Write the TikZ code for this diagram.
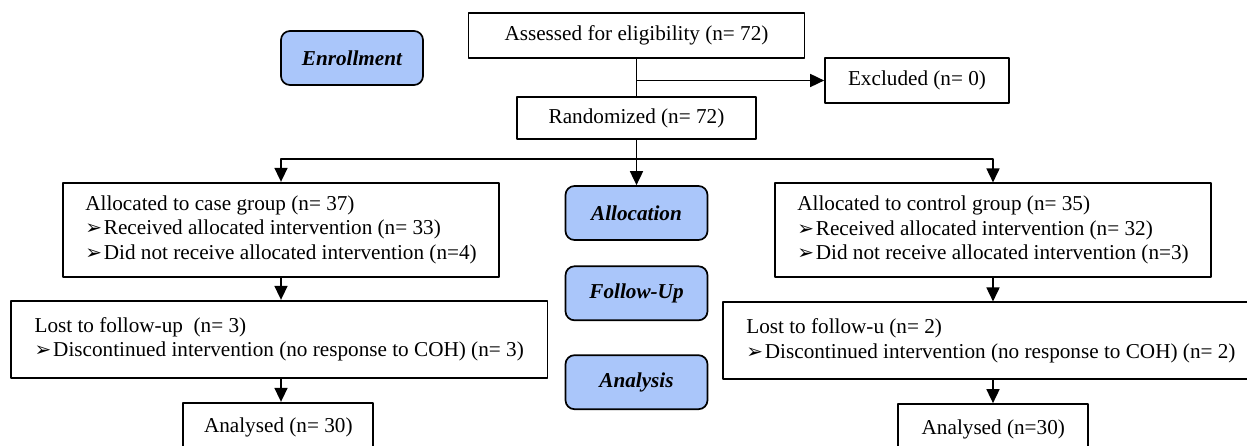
\documentclass[tikz,border=0pt]{standalone}
\usepackage{fontspec}
\setmainfont{Liberation Serif}
\newfontfamily\dingfont{DejaVu Sans}
\usetikzlibrary{arrows.meta}
\definecolor{stageblue}{RGB}{170,198,250}
\tikzset{
	box/.style={draw,line width=1.7pt,inner sep=0pt,align=center},
	listbox/.style={draw,line width=1.7pt,inner sep=0pt,align=left},
	stage/.style={draw,line width=1.7pt,fill=stageblue,rounded corners=9pt,minimum width=142pt,minimum height=54pt,font=\fontsize{21.2}{24.5}\selectfont\bfseries\itshape},
	arr/.style={line width=1.7pt,-{Triangle[length=14pt,width=13pt]}},
	ln/.style={line width=1.7pt}
}
\newcommand\itm{\makebox[18.6pt][l]{\dingfont\fontsize{20}{20}\selectfont ➢}}

\begin{document}
\begin{tikzpicture}[x=1pt,y=1pt,line join=round,font=\fontsize{21.2}{24.5}\selectfont]
	\useasboundingbox (0,0) rectangle (1247,-446);
	\clip (0,0) rectangle (1247,-446);
	\fill[white] (0,0) rectangle (1247,-446);
	% stages
	\node[stage] (enroll) at (352,-58) {Enrollment};
	\node[stage] (alloc) at (636.5,-213) {Allocation};
	\node[stage] (follow) at (636.5,-293.3) {Follow-Up};
	\node[stage] (anal) at (636.5,-382.2) {Analysis};
	% top
	\node[box,minimum width=336pt,minimum height=45pt] (assess) at (636.5,-35.8) {Assessed for eligibility (n= 72)};
	\node[box,minimum width=184pt,minimum height=45.6pt] (excl) at (917,-80.5) {Excluded (n= 0)};
	\node[box,minimum width=239pt,minimum height=42.6pt] (rand) at (636.5,-118) {Randomized (n= 72)};
	\coordinate (split) at (636.5,-159.3);
	% case group
	\node[listbox,minimum width=436.6pt,minimum height=94pt] (casegrp) at (281,-229.7) {Allocated to case group (n= 37)\\ \itm Received allocated intervention (n= 33)\\ \itm Did not receive allocated intervention (n=4)};
	\node[listbox,minimum width=536.3pt,minimum height=77.6pt] (lostcase) at (279.2,-339.5) {Lost to follow-up~ (n= 3)\\ \itm Discontinued intervention (no response to COH) (n= 3)};
	\node[box,minimum width=190pt,minimum height=50pt] (ancase) at (278.3,-427.7) {Analysed (n= 30)};
	% control group
	\node[listbox,minimum width=436pt,minimum height=93.4pt] (ctrlgrp) at (993,-230) {Allocated to control group (n= 35)\\ \itm Received allocated intervention (n= 32)\\ \itm Did not receive allocated intervention (n=3)};
	\node[listbox,minimum width=536.3pt,minimum height=77pt] (lostctrl) at (990.9,-340.8) {Lost to follow-u (n= 2)\\ \itm Discontinued intervention (no response to COH) (n= 2)};
	\node[box,minimum width=190pt,minimum height=50pt] (anctrl) at (993.3,-429) {Analysed (n=30)};
	% connectors
	\draw[ln] (assess.south) -- (rand.north);
	\draw[arr] (assess.south |- excl.west) -- (excl.west);
	\draw[ln] (rand.south) -- (split);
	\draw[arr] (split) -| (casegrp.north);
	\draw[arr] (split) -| (ctrlgrp.north);
	\draw[arr] (split) -- (alloc.north);
	\draw[arr] (casegrp.south) -- (casegrp.south |- lostcase.north);
	\draw[arr] (casegrp.south |- lostcase.south) -- (casegrp.south |- ancase.north);
	\draw[arr] (ctrlgrp.south) -- (ctrlgrp.south |- lostctrl.north);
	\draw[arr] (ctrlgrp.south |- lostctrl.south) -- (ctrlgrp.south |- anctrl.north);
\end{tikzpicture}
\end{document}
